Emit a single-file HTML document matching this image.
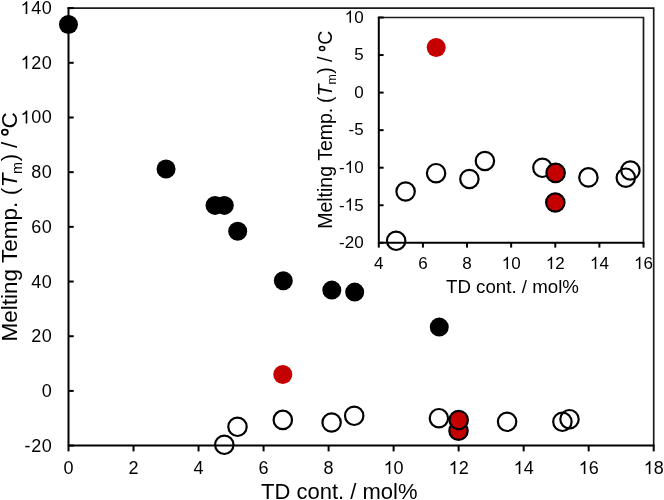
<!DOCTYPE html>
<html><head><meta charset="utf-8"><style>
html,body{margin:0;padding:0;background:#fff;}
svg{display:block;will-change:transform;}
text{font-family:"Liberation Sans",sans-serif;fill:#000;}
.tm{font-size:18px;}
.ti{font-size:17px;}
</style></head><body>
<svg width="664" height="500" viewBox="0 0 664 500">
<path d="M67.5 8.1H653.7V445.6" fill="none" stroke="#1a1a1a" stroke-width="1.7"/>
<path d="M68.5 7.25V445.6H654.5500000000001" fill="none" stroke="#000" stroke-width="2"/>
<line x1="68.5" y1="445.60" x2="73.7" y2="445.60" stroke="#000" stroke-width="2"/>
<line x1="68.5" y1="390.91" x2="73.7" y2="390.91" stroke="#000" stroke-width="2"/>
<line x1="68.5" y1="336.23" x2="73.7" y2="336.23" stroke="#000" stroke-width="2"/>
<line x1="68.5" y1="281.54" x2="73.7" y2="281.54" stroke="#000" stroke-width="2"/>
<line x1="68.5" y1="226.85" x2="73.7" y2="226.85" stroke="#000" stroke-width="2"/>
<line x1="68.5" y1="172.16" x2="73.7" y2="172.16" stroke="#000" stroke-width="2"/>
<line x1="68.5" y1="117.48" x2="73.7" y2="117.48" stroke="#000" stroke-width="2"/>
<line x1="68.5" y1="62.79" x2="73.7" y2="62.79" stroke="#000" stroke-width="2"/>
<line x1="68.5" y1="8.10" x2="73.7" y2="8.10" stroke="#000" stroke-width="2"/>
<line x1="68.50" y1="445.6" x2="68.50" y2="451.40000000000003" stroke="#000" stroke-width="2"/>
<line x1="133.52" y1="445.6" x2="133.52" y2="451.40000000000003" stroke="#000" stroke-width="2"/>
<line x1="198.54" y1="445.6" x2="198.54" y2="451.40000000000003" stroke="#000" stroke-width="2"/>
<line x1="263.57" y1="445.6" x2="263.57" y2="451.40000000000003" stroke="#000" stroke-width="2"/>
<line x1="328.59" y1="445.6" x2="328.59" y2="451.40000000000003" stroke="#000" stroke-width="2"/>
<line x1="393.61" y1="445.6" x2="393.61" y2="451.40000000000003" stroke="#000" stroke-width="2"/>
<line x1="458.63" y1="445.6" x2="458.63" y2="451.40000000000003" stroke="#000" stroke-width="2"/>
<line x1="523.66" y1="445.6" x2="523.66" y2="451.40000000000003" stroke="#000" stroke-width="2"/>
<line x1="588.68" y1="445.6" x2="588.68" y2="451.40000000000003" stroke="#000" stroke-width="2"/>
<line x1="653.70" y1="445.6" x2="653.70" y2="451.40000000000003" stroke="#000" stroke-width="2"/>
<text x="24.58 31.13 41.69" y="451.60" style="font-size:18px">-20</text>
<text x="41.69" y="396.91" style="font-size:18px">0</text>
<text x="31.13 41.69" y="342.23" style="font-size:18px">20</text>
<text x="31.13 41.69" y="287.54" style="font-size:18px">40</text>
<text x="31.13 41.69" y="232.85" style="font-size:18px">60</text>
<text x="31.13 41.69" y="178.16" style="font-size:18px">80</text>
<text x="20.57 31.13 41.69" y="123.48" style="font-size:18px"> 00</text>
<path d="M763 0H583V1147Q518 1085 412.5 1023T223 930V1104Q373 1175 485.5 1276T645 1472H763V0Z" transform="translate(20.57,123.48) scale(0.008789,-0.008789)"/>
<text x="20.57 31.13 41.69" y="68.79" style="font-size:18px"> 20</text>
<path d="M763 0H583V1147Q518 1085 412.5 1023T223 930V1104Q373 1175 485.5 1276T645 1472H763V0Z" transform="translate(20.57,68.79) scale(0.008789,-0.008789)"/>
<text x="20.57 31.13 41.69" y="14.10" style="font-size:18px"> 40</text>
<path d="M763 0H583V1147Q518 1085 412.5 1023T223 930V1104Q373 1175 485.5 1276T645 1472H763V0Z" transform="translate(20.57,14.10) scale(0.008789,-0.008789)"/>
<text x="63.49" y="474.00" style="font-size:18px">0</text>
<text x="128.52" y="474.00" style="font-size:18px">2</text>
<text x="193.54" y="474.00" style="font-size:18px">4</text>
<text x="258.56" y="474.00" style="font-size:18px">6</text>
<text x="323.58" y="474.00" style="font-size:18px">8</text>
<text x="383.60 393.61" y="474.00" style="font-size:18px"> 0</text>
<path d="M763 0H583V1147Q518 1085 412.5 1023T223 930V1104Q373 1175 485.5 1276T645 1472H763V0Z" transform="translate(383.60,474.00) scale(0.008789,-0.008789)"/>
<text x="448.62 458.63" y="474.00" style="font-size:18px"> 2</text>
<path d="M763 0H583V1147Q518 1085 412.5 1023T223 930V1104Q373 1175 485.5 1276T645 1472H763V0Z" transform="translate(448.62,474.00) scale(0.008789,-0.008789)"/>
<text x="513.64 523.66" y="474.00" style="font-size:18px"> 4</text>
<path d="M763 0H583V1147Q518 1085 412.5 1023T223 930V1104Q373 1175 485.5 1276T645 1472H763V0Z" transform="translate(513.64,474.00) scale(0.008789,-0.008789)"/>
<text x="578.67 588.68" y="474.00" style="font-size:18px"> 6</text>
<path d="M763 0H583V1147Q518 1085 412.5 1023T223 930V1104Q373 1175 485.5 1276T645 1472H763V0Z" transform="translate(578.67,474.00) scale(0.008789,-0.008789)"/>
<text x="643.69 653.70" y="474.00" style="font-size:18px"> 8</text>
<path d="M763 0H583V1147Q518 1085 412.5 1023T223 930V1104Q373 1175 485.5 1276T645 1472H763V0Z" transform="translate(643.69,474.00) scale(0.008789,-0.008789)"/>
<text x="261" y="498.6" style="font-size:22px">TD cont. / mol%</text>
<g transform="translate(17,341.5) rotate(-90)" style="font-size:22.5px">
<text x="0.00" y="0">Melting Temp.</text>
<text x="146.30" y="0">(</text>
<text x="154.25" y="0" font-style="italic">T</text>
<text x="167.50" y="4.7" style="font-size:14.5px">m</text>
<text x="180.20" y="0">)</text>
<text x="193.50" y="0">/</text>
<text x="213.00" y="0">C</text>
</g>
<ellipse cx="4.85" cy="132.3" rx="3.0" ry="2.6" fill="none" stroke="#000" stroke-width="1.7"/>
<circle cx="68.45" cy="24.55" r="9.5" fill="#000"/>
<circle cx="166.05" cy="168.95" r="9.5" fill="#000"/>
<circle cx="215" cy="205.4" r="9.5" fill="#000"/>
<circle cx="224.3" cy="205.4" r="9.5" fill="#000"/>
<circle cx="237.7" cy="231.2" r="9.5" fill="#000"/>
<circle cx="283.3" cy="280.7" r="9.5" fill="#000"/>
<circle cx="331.8" cy="290.1" r="9.5" fill="#000"/>
<circle cx="354.7" cy="292.1" r="9.5" fill="#000"/>
<circle cx="439.25" cy="327.1" r="9.5" fill="#000"/>
<circle cx="224.3" cy="444.8" r="9.2" fill="none" stroke="#000" stroke-width="2.2"/>
<circle cx="237.5" cy="426.8" r="9.2" fill="none" stroke="#000" stroke-width="2.2"/>
<circle cx="282.8" cy="419.9" r="9.2" fill="none" stroke="#000" stroke-width="2.2"/>
<circle cx="331.6" cy="422.5" r="9.2" fill="none" stroke="#000" stroke-width="2.2"/>
<circle cx="354.2" cy="415.8" r="9.2" fill="none" stroke="#000" stroke-width="2.2"/>
<circle cx="438.9" cy="418.2" r="9.2" fill="none" stroke="#000" stroke-width="2.2"/>
<circle cx="507.1" cy="421.8" r="9.2" fill="none" stroke="#000" stroke-width="2.2"/>
<circle cx="562.4" cy="421.8" r="9.2" fill="none" stroke="#000" stroke-width="2.2"/>
<circle cx="569.5" cy="419.2" r="9.2" fill="none" stroke="#000" stroke-width="2.2"/>
<circle cx="282.8" cy="374.5" r="9.5" fill="#C40000"/>
<circle cx="458.5" cy="430.7" r="9.2" fill="#C40000" stroke="#000" stroke-width="2.2"/>
<circle cx="458.7" cy="420.05" r="9.2" fill="#C40000" stroke="#000" stroke-width="2.2"/>
<path d="M377.8 17.5H643.5V242.8" fill="none" stroke="#1a1a1a" stroke-width="1.7"/>
<path d="M378.8 16.65V242.8H644.35" fill="none" stroke="#000" stroke-width="2"/>
<line x1="378.8" y1="242.80" x2="383.6" y2="242.80" stroke="#000" stroke-width="2"/>
<line x1="378.8" y1="205.25" x2="383.6" y2="205.25" stroke="#000" stroke-width="2"/>
<line x1="378.8" y1="167.70" x2="383.6" y2="167.70" stroke="#000" stroke-width="2"/>
<line x1="378.8" y1="130.15" x2="383.6" y2="130.15" stroke="#000" stroke-width="2"/>
<line x1="378.8" y1="92.60" x2="383.6" y2="92.60" stroke="#000" stroke-width="2"/>
<line x1="378.8" y1="55.05" x2="383.6" y2="55.05" stroke="#000" stroke-width="2"/>
<line x1="378.8" y1="17.50" x2="383.6" y2="17.50" stroke="#000" stroke-width="2"/>
<line x1="378.80" y1="242.8" x2="378.80" y2="247.60000000000002" stroke="#000" stroke-width="2"/>
<line x1="422.92" y1="242.8" x2="422.92" y2="247.60000000000002" stroke="#000" stroke-width="2"/>
<line x1="467.03" y1="242.8" x2="467.03" y2="247.60000000000002" stroke="#000" stroke-width="2"/>
<line x1="511.15" y1="242.8" x2="511.15" y2="247.60000000000002" stroke="#000" stroke-width="2"/>
<line x1="555.27" y1="242.8" x2="555.27" y2="247.60000000000002" stroke="#000" stroke-width="2"/>
<line x1="599.38" y1="242.8" x2="599.38" y2="247.60000000000002" stroke="#000" stroke-width="2"/>
<line x1="643.50" y1="242.8" x2="643.50" y2="247.60000000000002" stroke="#000" stroke-width="2"/>
<text x="339.03 344.69 354.15" y="248.10" style="font-size:17px">-20</text>
<text x="339.03 344.69 354.15" y="210.55" style="font-size:17px">- 5</text>
<path d="M763 0H583V1147Q518 1085 412.5 1023T223 930V1104Q373 1175 485.5 1276T645 1472H763V0Z" transform="translate(344.69,210.55) scale(0.008301,-0.008301)"/>
<text x="339.03 344.69 354.15" y="173.00" style="font-size:17px">- 0</text>
<path d="M763 0H583V1147Q518 1085 412.5 1023T223 930V1104Q373 1175 485.5 1276T645 1472H763V0Z" transform="translate(344.69,173.00) scale(0.008301,-0.008301)"/>
<text x="348.48 354.15" y="135.45" style="font-size:17px">-5</text>
<text x="354.15" y="97.90" style="font-size:17px">0</text>
<text x="354.15" y="60.35" style="font-size:17px">5</text>
<text x="344.69 354.15" y="22.80" style="font-size:17px"> 0</text>
<path d="M763 0H583V1147Q518 1085 412.5 1023T223 930V1104Q373 1175 485.5 1276T645 1472H763V0Z" transform="translate(344.69,22.80) scale(0.008301,-0.008301)"/>
<text x="374.07" y="269.00" style="font-size:17px">4</text>
<text x="418.19" y="269.00" style="font-size:17px">6</text>
<text x="462.31" y="269.00" style="font-size:17px">8</text>
<text x="501.70 511.15" y="269.00" style="font-size:17px"> 0</text>
<path d="M763 0H583V1147Q518 1085 412.5 1023T223 930V1104Q373 1175 485.5 1276T645 1472H763V0Z" transform="translate(501.70,269.00) scale(0.008301,-0.008301)"/>
<text x="545.81 555.27" y="269.00" style="font-size:17px"> 2</text>
<path d="M763 0H583V1147Q518 1085 412.5 1023T223 930V1104Q373 1175 485.5 1276T645 1472H763V0Z" transform="translate(545.81,269.00) scale(0.008301,-0.008301)"/>
<text x="589.93 599.38" y="269.00" style="font-size:17px"> 4</text>
<path d="M763 0H583V1147Q518 1085 412.5 1023T223 930V1104Q373 1175 485.5 1276T645 1472H763V0Z" transform="translate(589.93,269.00) scale(0.008301,-0.008301)"/>
<text x="634.05 643.50" y="269.00" style="font-size:17px"> 6</text>
<path d="M763 0H583V1147Q518 1085 412.5 1023T223 930V1104Q373 1175 485.5 1276T645 1472H763V0Z" transform="translate(634.05,269.00) scale(0.008301,-0.008301)"/>
<text x="446" y="292.7" style="font-size:18.7px">TD cont. / mol%</text>
<g transform="translate(331.8,228.8) rotate(-90)" style="font-size:19.5px">
<text x="0.00" y="0">Melting Temp.</text>
<text x="125.80" y="0">(</text>
<text x="132.60" y="0" font-style="italic">T</text>
<text x="144.20" y="4.4" style="font-size:12.5px">m</text>
<text x="155.10" y="0">)</text>
<text x="166.80" y="0">/</text>
<text x="184.00" y="0">C</text>
</g>
<ellipse cx="322.1" cy="48.6" rx="2.6" ry="2.0" fill="none" stroke="#000" stroke-width="1.5"/>
<circle cx="396.15" cy="240.8" r="9.2" fill="none" stroke="#000" stroke-width="2.2"/>
<circle cx="405.6" cy="191.5" r="9.2" fill="none" stroke="#000" stroke-width="2.2"/>
<circle cx="436.1" cy="173.2" r="9.2" fill="none" stroke="#000" stroke-width="2.2"/>
<circle cx="469.4" cy="179.0" r="9.2" fill="none" stroke="#000" stroke-width="2.2"/>
<circle cx="484.9" cy="161.0" r="9.2" fill="none" stroke="#000" stroke-width="2.2"/>
<circle cx="542.4" cy="167.8" r="9.2" fill="none" stroke="#000" stroke-width="2.2"/>
<circle cx="588.4" cy="177.4" r="9.2" fill="none" stroke="#000" stroke-width="2.2"/>
<circle cx="625.8" cy="177.7" r="9.2" fill="none" stroke="#000" stroke-width="2.2"/>
<circle cx="630.4" cy="170.5" r="9.2" fill="none" stroke="#000" stroke-width="2.2"/>
<circle cx="436.2" cy="47.45" r="9.5" fill="#C40000"/>
<circle cx="555.3" cy="202.5" r="9.2" fill="#C40000" stroke="#000" stroke-width="2.2"/>
<circle cx="555.6" cy="172.9" r="9.2" fill="#C40000" stroke="#000" stroke-width="2.2"/>
</svg>
</body></html>
